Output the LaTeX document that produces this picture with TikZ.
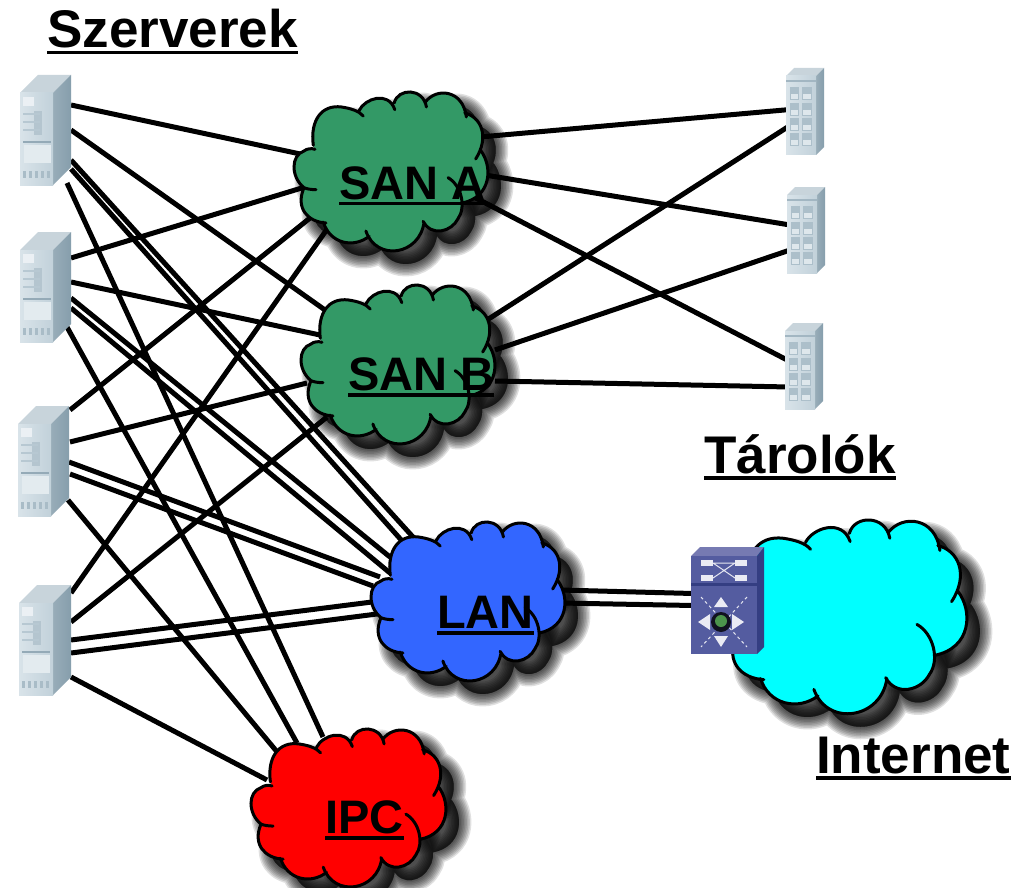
\documentclass[tikz,border=0pt]{standalone}
\usepackage{fontspec}
\setmainfont{Liberation Sans}
\usetikzlibrary{calc}
\definecolor{sangreen}{RGB}{51,153,102}
\definecolor{lanblue}{RGB}{51,102,255}
\definecolor{netcyan}{RGB}{0,255,255}
\definecolor{srvA}{RGB}{204,218,226}
\definecolor{srvB}{RGB}{134,158,172}
\definecolor{srvC}{RGB}{176,194,204}
\definecolor{swA}{RGB}{84,92,160}
\definecolor{swB}{RGB}{52,62,130}
\definecolor{swC}{RGB}{118,122,178}
\newcommand\ul[1]{\setbox0\hbox{#1}\rlap{\rule[-6.5pt]{\wd0}{3.6pt}}\box0}
\newcommand\cloudpath[1]{
 (100,195) .. controls (90,120) and (125,72) .. (185,80) .. controls (212,84) and (238,92) .. (250,107) #1
 (238,90) .. controls (255,55) and (325,30) .. (345,88) #1
 (343,68) .. controls (355,22) and (430,22) .. (440,80) #1
 (436,66) .. controls (470,20) and (550,28) .. (560,110) #1
 (555,98) .. controls (605,110) and (630,170) .. (588,236) #1
 (603,210) .. controls (640,260) and (635,350) .. (548,368) #1
 (505,292) .. controls (545,315) and (560,380) .. (535,415) .. controls (515,455) and (455,470) .. (430,423) #1
 (433,425) .. controls (420,525) and (290,545) .. (258,452) #1
 (268,468) .. controls (220,505) and (150,490) .. (130,425) #1
 (138,428) .. controls (85,425) and (45,385) .. (72,322) .. controls (80,326) and (95,328) .. (108,328) #1
 (72,322) .. controls (32,290) and (32,225) .. (72,212) .. controls (80,205) and (95,203) .. (105,207) #1
 (100,195)
}
% #1 fill, #2 left, #3 top, #4 width, #5 height
\newcommand\cloudat[5]{
 \foreach \w in {25,22,19,16,13,10,7,4,1}{
  \begin{scope}[shift={(#2+13,#3+13)},xscale=#4/580,yscale=#5/480,shift={(-45,-35)}]
   \path[fill=black,draw=black,opacity=.12,line width=\w pt,line join=round] \cloudpath{--} -- cycle;
  \end{scope}
 }
 \begin{scope}[shift={(#2,#3)},xscale=#4/580,yscale=#5/480,shift={(-45,-35)}]
  \path[fill=#1] \cloudpath{--} -- cycle;
  \draw[cloudline] \cloudpath{};
 \end{scope}
}
% #1 name, #2 left, #3 top, #4 front width, #5 front height, #6 depth
\newcommand\iconnode[6]{
 \node[iconbox,minimum width=#4+#6,minimum height=#5+#6] (#1) at (#2+#4/2+#6/2,#3+#5/2+#6/2) {};
}
\newcommand\boxbody[5]{
 \begin{scope}[shift={(#1,#2)}]
  \fill[srvC!70!white] (0,#5) -- (#5,0) -- (#3+#5,0) -- (#3,#5) -- cycle;
  \shade[left color=srvB!85!white,right color=srvB] (#3,#5) -- (#3+#5,0) -- (#3+#5,#4) -- (#3,#4+#5) -- cycle;
  \shade[left color=srvA!75!white,right color=srvA!85!srvB] (0,#5) rectangle (#3,#4+#5);
 \end{scope}
}
\newcommand\serverdetail[2]{
 \begin{scope}[shift={(#1,#2)}]
  \fill[white!60!srvA] (3,22) rectangle (14,31);
  \fill[srvB!35!srvA] (14,36) rectangle (22,60);
  \fill[srvB!30!srvA] (3,38) rectangle (20,40);
  \fill[srvB!30!srvA] (3,46) rectangle (20,48);
  \fill[srvB!30!srvA] (3,54) rectangle (20,56);
  \fill[srvB!80!srvA] (3,66) rectangle (31,68);
  \fill[white!45!srvA] (4,70) rectangle (31,88);
  \foreach \i in {3,9,15,21,27}{\fill[srvB!50!srvA] (\i,96) rectangle ++(3,7);}
 \end{scope}
}
\newcommand\storagedetail[2]{
 \begin{scope}[shift={(#1,#2)}]
  \fill[srvB!60!srvA] (0,12) rectangle (30,14);
  \foreach \y in {19,35,50,65}{
   \fill[srvB!45!srvA] (4,\y) rectangle (13,\y+13);
   \fill[srvB!45!srvA] (16,\y) rectangle (26,\y+13);
   \fill[white!35!srvA] (5,\y+7) rectangle (12,\y+12);
   \fill[white!35!srvA] (17,\y+7) rectangle (25,\y+12);
  }
 \end{scope}
}
\tikzset{
 x=1pt,y=-1pt,
 link/.style={line width=5pt,black},
 cloudline/.style={line width=3pt,black,line cap=round},
 iconbox/.style={inner sep=0pt,outer sep=0pt,draw=none,fill=none,rectangle},
 biglabel/.style={font=\fontsize{53}{60}\selectfont\bfseries,inner sep=0pt},
 cloudlabel/.style={font=\fontsize{47}{52}\selectfont\bfseries,inner sep=0pt},
 swmark/.style={draw=white!85!swA,line width=1pt},
 swfill/.style={fill=white!88!swA},
}
\begin{document}
\begin{tikzpicture}
\useasboundingbox (0,0) rectangle (1023,888);
\fill[white] (0,0) rectangle (1023,888);
\coordinate (cA) at (391,172);
\coordinate (cB) at (398,365);
\coordinate (cL) at (468,604);
\coordinate (cI) at (348,808);
\iconnode{s1}{20}{75}{33}{92}{18}
\iconnode{s2}{20}{232}{33}{92}{18}
\iconnode{s3}{18}{406}{33}{92}{18}
\iconnode{s4}{19}{585}{34}{92}{18}
\iconnode{t1}{786}{68}{30}{79}{8}
\iconnode{t2}{787}{187}{30}{78}{8}
\iconnode{t3}{785}{323}{30}{78}{8}
\node[iconbox,minimum width=73,minimum height=107] (sw) at (727.5,600.5) {};
\begin{scope}[link]
\draw ([shift={(0,-25)}]s1.east) -- ([shift={(-86,-17)}]cA);
\draw ([shift={(0,0)}]s1.east) -- ([shift={(-73,-55)}]cB);
\draw ([shift={(0,30)}]s1.east) -- ([shift={(-55,-67)}]cL);
\draw ([shift={(0,39)}]s1.east) -- ([shift={(-65,-62)}]cL);
\draw ([shift={(-4,53)}]s1.east) -- ([shift={(-25,-71)}]cI);
\draw ([shift={(0,-29)}]s2.east) -- ([shift={(-86,15)}]cA);
\draw ([shift={(0,-5)}]s2.east) -- ([shift={(-78,-30)}]cB);
\draw ([shift={(0,11)}]s2.east) -- ([shift={(-78,-47)}]cL);
\draw ([shift={(0,21)}]s2.east) -- ([shift={(-78,-31)}]cL);
\draw ([shift={(-4,40)}]s2.east) -- ([shift={(-51,-65)}]cI);
\draw ([shift={(1,-51)}]s3.east) -- ([shift={(-81,46)}]cA);
\draw ([shift={(1,-19)}]s3.east) -- ([shift={(-91,18)}]cB);
\draw ([shift={(0,1)}]s3.east) -- ([shift={(-88,-27)}]cL);
\draw ([shift={(1,13)}]s3.east) -- ([shift={(-95,-18)}]cL);
\draw ([shift={(-1,39)}]s3.east) -- ([shift={(-70,-55)}]cI);
\draw ([shift={(0,-47)}]s4.east) -- ([shift={(-61,53)}]cA);
\draw ([shift={(0,-18)}]s4.east) -- ([shift={(-71,52)}]cB);
\draw ([shift={(0,0)}]s4.east) -- ([shift={(-96,-2)}]cL);
\draw ([shift={(0,13)}]s4.east) -- ([shift={(-91,10)}]cL);
\draw ([shift={(0,37)}]s4.east) -- ([shift={(-81,-28)}]cI);
\draw ([shift={(89,-35)}]cA) -- ([shift={(4,-2)}]t1.west);
\draw ([shift={(94,3)}]cA) -- ([shift={(3,-5)}]t2.west);
\draw ([shift={(79,23)}]cA) -- ([shift={(4,-5)}]t3.west);
\draw ([shift={(89,-45)}]cB) -- ([shift={(4,14)}]t1.west);
\draw ([shift={(97,-15)}]cB) -- ([shift={(3,20)}]t2.west);
\draw ([shift={(97,16)}]cB) -- ([shift={(4,21)}]t3.west);
\draw ([shift={(92,-14)}]cL) -- ([shift={(2,-7)}]sw.west);
\draw ([shift={(92,-1)}]cL) -- ([shift={(2,5)}]sw.west);
\end{scope}
\boxbody{20}{75}{33}{92}{18}
\boxbody{20}{232}{33}{92}{18}
\boxbody{18}{406}{33}{92}{18}
\boxbody{19}{585}{34}{92}{18}
\serverdetail{20}{75}\serverdetail{20}{232}\serverdetail{18}{406}\serverdetail{19}{585}
\boxbody{786}{68}{30}{79}{8}
\boxbody{787}{187}{30}{78}{8}
\boxbody{785}{323}{30}{78}{8}
\storagedetail{786}{68}\storagedetail{787}{187}\storagedetail{785}{323}
\cloudat{sangreen}{295}{92}{193}{160}
\cloudat{sangreen}{302}{285}{193}{160}
\cloudat{lanblue}{372}{522}{193}{160}
\cloudat{red}{252}{729}{194}{159}
\cloudat{netcyan}{725}{520}{242}{195}
\begin{scope}[shift={(691,547)}]
 \fill[swC] (0,9) -- (9,0) -- (73,0) -- (66,9) -- cycle;
 \fill[swB] (66,9) -- (73,0) -- (73,100) -- (66,107) -- cycle;
 \fill[swA] (0,9) rectangle (66,107);
 \fill[swB] (0,36) rectangle (66,39);
 \foreach \x/\y in {10/13,44/13,10/28,44/28}{\fill[swfill] (\x,\y) rectangle ++(12,6);}
 \draw[swmark] (22,16) -- (44,16) (22,31) -- (44,16) (22,16) -- (44,31);
 \draw[swmark,dashed] (10,50) -- (56,100) (56,50) -- (10,100);
 \fill[swfill] (30,50) -- (23,60) -- (37,60) -- cycle;
 \fill[swfill] (30,100) -- (23,89) -- (37,89) -- cycle;
 \fill[swfill] (7,75) -- (19,67) -- (19,83) -- cycle;
 \fill[swfill] (53,75) -- (41,67) -- (41,83) -- cycle;
 \fill[black!80!swA] (30,75) circle (10);
 \fill[green!40!black!70!white] (30,74) circle (6);
\end{scope}
\node[biglabel,anchor=base west] (l1) at (47,48) {\ul{Szerverek}};
\node[biglabel,anchor=base west] (l2) at (704,473) {\ul{Tárolók}};
\node[biglabel,anchor=base west] (l3) at (816,773) {\ul{Internet}};
\node[cloudlabel,anchor=base west] (n1) at (339,199) {\ul{SAN A}};
\node[cloudlabel,anchor=base west] (n2) at (348,390) {\ul{SAN B}};
\node[cloudlabel,anchor=base west] (n3) at (437,628) {\ul{LAN}};
\node[cloudlabel,anchor=base west] (n4) at (325,833) {\ul{IPC}};
\end{tikzpicture}
\end{document}
